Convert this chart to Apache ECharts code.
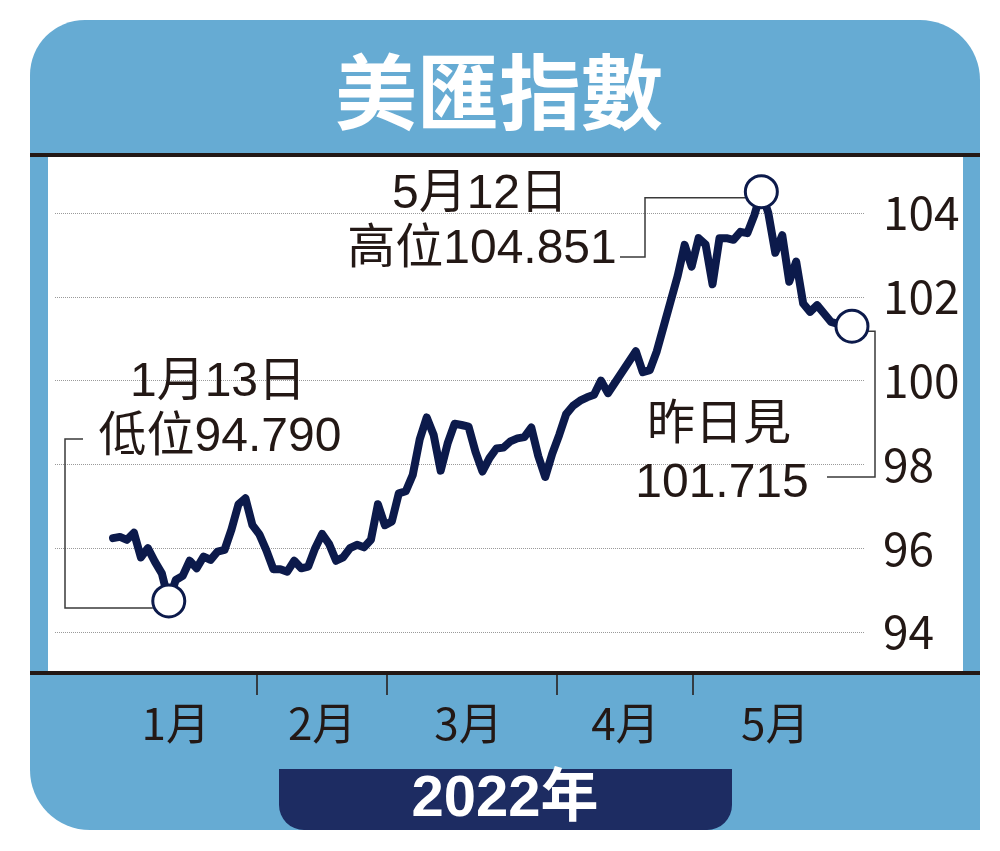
<!DOCTYPE html>
<html>
<head>
<meta charset="utf-8">
<script src="https://cdn.jsdelivr.net/npm/echarts@6/dist/echarts.min.js"></script>
<style>
html, body { margin: 0; padding: 0; background: #fff; }
#main { width: 1000px; height: 851px; }
</style>
</head>
<body>
<div id="main"></div>
<script>
// 美匯指數 daily closes, 2022 (trading days)
var jan = [96.24, 96.27, 96.20, 96.37, 95.78, 96.00, 95.68, 95.40, 94.74, 95.24, 95.34,
           95.70, 95.52, 95.80, 95.72, 95.92, 95.96, 96.45, 97.05, 97.19, 96.55];
var feb = [96.33, 95.95, 95.50, 95.50, 95.44, 95.70, 95.52, 95.56, 96.00, 96.34,
           96.10, 95.70, 95.78, 96.00, 96.08, 96.02, 96.20, 97.05, 96.55, 96.64];
var mar = [97.31, 97.36, 97.75, 98.60, 99.12, 98.70, 97.85, 98.50, 98.97, 98.94, 98.90, 98.30,
           97.83, 98.15, 98.38, 98.40, 98.55, 98.62, 98.65, 98.88, 98.20, 97.70, 98.25];
var apr = [98.70, 99.20, 99.40, 99.52, 99.60, 99.66, 100.00, 99.70, 99.95, 100.20, 100.45,
           100.70, 100.20, 100.25, 100.70, 101.30, 101.90, 102.50, 103.24, 102.72, 103.40];
var may = [103.25, 102.30, 103.40, 103.40, 103.36, 103.55, 103.52, 103.95, 104.51, 104.00, 103.05,
           103.47, 102.36, 102.84, 101.84, 101.64, 101.80, 101.60, 101.40, 101.35, 101.32, 101.30];
var values = jan.concat(feb, mar, apr, may);

var monthNames = ['1月', '2月', '3月', '4月', '5月'];
var monthLabelAt = [9, 30, 51, 73.5, 95];      // label position (trading-day index)
var monthTickAt = [20.6, 39.2, 63.7, 83.1];    // month separators
var markIdx = [8, 93, 106];                    // 低位, 高位, 昨日

var BLUE = '#66abd3', NAVY = '#0c1a4b', INK = '#231815', BOX = '#1d2c62';
var NARROW = '"Liberation Sans Narrow", "Noto Sans CJK TC", sans-serif';
var SANS = '"Liberation Sans", "Noto Sans CJK TC", sans-serif';

var chart = echarts.init(document.getElementById('main'));

var option = {
  backgroundColor: '#fff',
  animation: false,
  grid: { left: 55, right: 135, top: 213, bottom: 219 },
  xAxis: {
    type: 'value',
    min: -8.32,
    max: 107.87,
    offset: 41,
    axisLine: { show: false },
    splitLine: { show: false },
    axisTick: {
      show: true,
      customValues: monthTickAt,
      length: 22,
      lineStyle: { color: INK, width: 1.5 }
    },
    axisLabel: {
      customValues: monthLabelAt,
      margin: 28,
      fontSize: 44,
      color: INK,
      fontFamily: NARROW,
      formatter: function (v) {
        var best = 0;
        for (var i = 1; i < monthLabelAt.length; i++) {
          if (Math.abs(monthLabelAt[i] - v) < Math.abs(monthLabelAt[best] - v)) best = i;
        }
        return monthNames[best];
      }
    }
  },
  yAxis: {
    type: 'value',
    position: 'right',
    min: 94,
    max: 104,
    interval: 2,
    axisLine: { show: false },
    axisTick: { show: false },
    splitLine: { lineStyle: { type: 'dotted', color: '#9a9a9a', width: 1 } },
    axisLabel: { margin: 18, fontSize: 46, color: INK, fontFamily: NARROW }
  },
  series: [
    {
      type: 'line',
      data: values.map(function (v, i) { return [i, v]; }),
      symbol: 'none',
      clip: false,
      z: 3,
      lineStyle: { color: NAVY, width: 8, join: 'round', cap: 'round' }
    },
    {
      type: 'scatter',
      data: markIdx.map(function (i) { return [i, values[i]]; }),
      symbolSize: 32,
      clip: false,
      z: 5,
      itemStyle: { color: '#fff', borderColor: NAVY, borderWidth: 3, opacity: 1 }
    }
  ]
};
chart.setOption(option);

// pixel centres of the marked points, for the leader lines
var pLow = chart.convertToPixel({ gridIndex: 0 }, [markIdx[0], values[markIdx[0]]]);
var pHigh = chart.convertToPixel({ gridIndex: 0 }, [markIdx[1], values[markIdx[1]]]);
var pLast = chart.convertToPixel({ gridIndex: 0 }, [markIdx[2], values[markIdx[2]]]);
var R = 16;

function txt(x, y, s, size, weight, color, font) {
  return {
    type: 'text', x: x, y: y, z: 100, silent: true,
    style: {
      text: s, fill: color || INK, fontSize: size, fontWeight: weight || 'normal',
      fontFamily: font || SANS, align: 'center', verticalAlign: 'middle'
    }
  };
}
function leader(pts) {
  return {
    type: 'polyline', z: 2, silent: true,
    shape: { points: pts },
    style: { stroke: '#3a3a3a', lineWidth: 1.5, fill: null }
  };
}

chart.setOption({
  graphic: [
    // frame
    { type: 'rect', z: -10, silent: true,
      shape: { x: 30, y: 20, width: 950, height: 810, r: [55, 60, 0, 60] },
      style: { fill: BLUE } },
    { type: 'rect', z: -9, silent: true,
      shape: { x: 48, y: 157, width: 915, height: 515 }, style: { fill: '#fff' } },
    { type: 'rect', z: -8, silent: true,
      shape: { x: 30, y: 153, width: 950, height: 4 }, style: { fill: INK } },
    { type: 'rect', z: -8, silent: true,
      shape: { x: 30, y: 671, width: 950, height: 4 }, style: { fill: INK } },
    { type: 'rect', z: -8, silent: true,
      shape: { x: 279, y: 769, width: 453, height: 61, r: [0, 0, 25, 25] },
      style: { fill: BOX } },
    // titles
    txt(499, 92, '美匯指數', 82, 'bold', '#fff', '"Noto Sans CJK TC", sans-serif'),
    txt(505, 800, '2022年', 58, 'bold', '#fff', SANS),
    // annotations
    txt(218, 383, '1月13日', 48),
    txt(220, 438, '低位94.790', 48),
    txt(480, 195, '5月12日', 48),
    txt(482, 250, '高位104.851', 48),
    txt(719, 426, '昨日見', 48),
    txt(722, 484, '101.715', 48),
    leader([[83, 439], [65, 439], [65, pLow[1] + 7], [pLow[0] - R, pLow[1] + 7]]),
    leader([[620, 257], [645, 257], [645, pHigh[1] + 6], [pHigh[0] - R, pHigh[1] + 6]]),
    leader([[pLast[0] + R, pLast[1] + 5], [875, pLast[1] + 5], [875, 477], [827, 477]])
  ]
});
</script>
</body>
</html>
